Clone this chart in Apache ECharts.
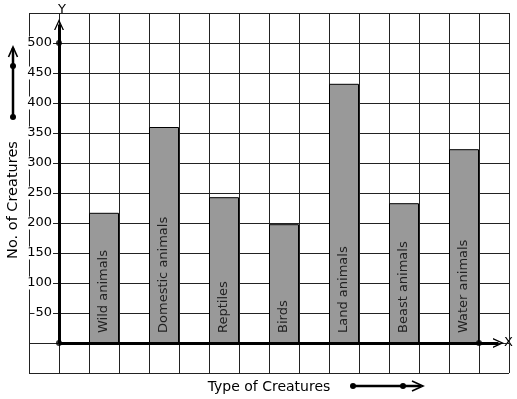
<!DOCTYPE html>
<html>
<head>
<meta charset="utf-8">
<script src="https://cdn.jsdelivr.net/npm/echarts@6/dist/echarts.min.js"></script>
<style>
  html, body { margin: 0; padding: 0; background: #fff; }
  #chart { width: 517px; height: 399px; }
</style>
</head>
<body>
<div id="chart"></div>
<script>
// chart data
const categories = ['Wild animals', 'Domestic animals', 'Reptiles', 'Birds', 'Land animals', 'Beast animals', 'Water animals']
const creatureCounts = [217, 360, 243, 198, 432, 233, 323]
const yTickLabels = [50, 100, 150, 200, 250, 300, 350, 400, 450, 500]
// bar slot on the x grid (one empty cell between bars)
const barSlots = [1.5, 3.5, 5.5, 7.5, 9.5, 11.5, 13.5]

const font = 'DejaVu Sans'
const chevron = 'path://M0,10 L5,0 L10,10 L8.6,10 L5,2.8 L1.4,10 Z'

const chart = echarts.init(document.getElementById('chart'))

chart.setOption({
  backgroundColor: '#ffffff',
  animation: false,
  grid: {
    left: 29,
    right: 8,
    top: 13,
    bottom: 26,
    containLabel: false,
    outerBoundsMode: 'none'
  },
  xAxis: {
    type: 'value',
    min: -1,
    max: 15,
    interval: 1,
    offset: -30,
    name: 'Type of Creatures',
    nameLocation: 'middle',
    nameGap: 37,
    nameTextStyle: { fontFamily: font, fontSize: 14, color: '#000' },
    axisLine: { show: false },
    axisTick: { show: false },
    axisLabel: { show: false },
    splitLine: { show: true, lineStyle: { color: '#222', width: 1 } }
  },
  yAxis: {
    type: 'value',
    min: -50,
    max: 550,
    interval: 50,
    offset: -30,
    axisLine: { show: false },
    axisTick: { show: false },
    axisLabel: {
      margin: 6,
      fontFamily: font,
      fontSize: 13,
      color: '#000',
      backgroundColor: '#fff',
      padding: [0, 1, 0, 1],
      formatter: v => (yTickLabels.indexOf(v) >= 0 ? String(v) : '')
    },
    splitLine: { show: true, lineStyle: { color: '#222', width: 1 } }
  },
  series: [
    {
      type: 'bar',
      barWidth: 30,
      data: barSlots.map((x, i) => [x, creatureCounts[i]]),
      itemStyle: { color: '#999999', borderColor: '#000', borderWidth: 1 },
      label: {
        show: true,
        position: 'insideBottom',
        rotate: 90,
        align: 'left',
        verticalAlign: 'middle',
        distance: 10,
        fontFamily: font,
        fontSize: 13,
        color: '#222',
        formatter: p => categories[p.dataIndex]
      },
      markLine: {
        silent: true,
        symbol: ['none', chevron],
        symbolSize: [10, 11],
        label: { show: false },
        lineStyle: { color: '#000', width: 3, type: 'solid' },
        data: [
          [{ coord: [0, 0] }, { coord: [0, 531] }],
          [{ coord: [0, 0] }, { coord: [14.65, 0] }]
        ]
      },
      z: 3
    },
    {
      type: 'scatter',
      symbol: 'circle',
      symbolSize: 6,
      itemStyle: { color: '#000' },
      data: [[0, 0], [0, 500], [14, 0]],
      z: 5
    }
  ],
  graphic: [
    { type: 'text', left: 57, top: 3, style: { text: 'Y', font: '13px "DejaVu Sans"', fill: '#000', backgroundColor: '#fff', padding: [0, 1] } },
    { type: 'text', left: 504, top: 336, style: { text: 'X', font: '13px "DejaVu Sans"', fill: '#000' } },
    // y title, rotated
    {
      type: 'text',
      x: 13,
      y: 200,
      rotation: Math.PI / 2,
      style: { text: 'No. of Creatures', font: '14.5px "DejaVu Sans"', fill: '#000', align: 'center', verticalAlign: 'middle' }
    },
    // arrow beside the y title
    { type: 'line', shape: { x1: 13, y1: 117, x2: 13, y2: 48 }, style: { stroke: '#000', lineWidth: 2.5 } },
    { type: 'circle', shape: { cx: 13, cy: 117, r: 3 }, style: { fill: '#000' } },
    { type: 'circle', shape: { cx: 13, cy: 66, r: 3 }, style: { fill: '#000' } },
    { type: 'polyline', shape: { points: [[8.5, 57], [13, 47], [17.5, 57]] }, style: { stroke: '#000', lineWidth: 1.6, fill: null } },
    // arrow beside the x title
    { type: 'line', shape: { x1: 353, y1: 386, x2: 421, y2: 386 }, style: { stroke: '#000', lineWidth: 2.5 } },
    { type: 'circle', shape: { cx: 353, cy: 386, r: 3 }, style: { fill: '#000' } },
    { type: 'circle', shape: { cx: 403, cy: 386, r: 3 }, style: { fill: '#000' } },
    { type: 'polyline', shape: { points: [[412, 381], [423, 386], [412, 391]] }, style: { stroke: '#000', lineWidth: 1.6, fill: null } }
  ]
})
</script>
</body>
</html>
